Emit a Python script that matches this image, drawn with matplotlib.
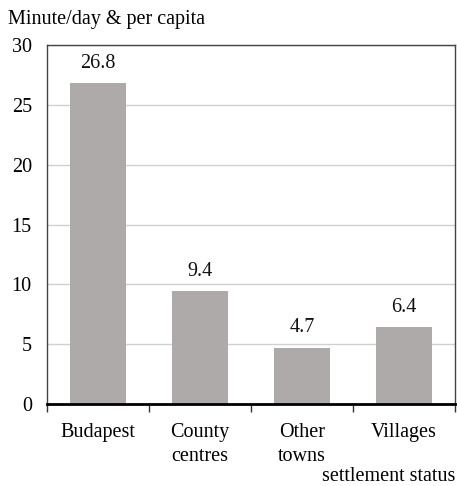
import matplotlib.pyplot as plt

categories = ["Budapest", "County\ncentres", "Other\ntowns", "Villages"]
values = [26.8, 9.4, 4.7, 6.4]
yticks = [0, 5, 10, 15, 20, 25, 30]

plt.rcParams['font.family'] = ['Liberation Serif', 'DejaVu Serif']
fs = 14.5

fig = plt.figure(figsize=(4.57, 4.86), dpi=100)
ax = fig.add_axes([0.103, 0.169, 0.893, 0.738])

x = range(len(categories))
bars = ax.bar(x, values, width=0.55, color='#aeaaa9', zorder=2)
for b, v in zip(bars, values):
    ax.text(b.get_x() + b.get_width() / 2, v + 0.9, f"{v:.1f}",
            ha='center', va='bottom', fontsize=fs, color='#111111')

ax.set_xlim(-0.5, len(categories) - 0.5)
ax.set_ylim(0, 30)
ax.set_yticks(yticks)
ax.tick_params(axis='y', length=0, labelsize=fs, pad=11)
ax.grid(axis='y', color='#d0d0d0', linewidth=1, zorder=0)

ax.set_xticks([-0.5, 0.5, 1.5, 2.5, 3.5], minor=False)
ax.set_xticklabels([])
ax.tick_params(axis='x', length=6, width=1, color='#333333')
ax.set_xticks(list(x), minor=True)
ax.set_xticklabels(categories, minor=True, fontsize=fs, linespacing=1.35)
ax.tick_params(axis='x', which='minor', length=0, pad=14)

for side in ['top', 'right', 'left']:
    ax.spines[side].set_color('#444444')
    ax.spines[side].set_linewidth(1)
ax.spines['bottom'].set_linewidth(2)
ax.spines['bottom'].set_color('black')

fig.text(0.018, 0.96, "Minute/day & per capita", fontsize=fs, ha='left', va='center')
fig.text(0.996, 0.02, "settlement status", fontsize=fs, ha='right', va='center')

fig.savefig("out.png", dpi=100)
